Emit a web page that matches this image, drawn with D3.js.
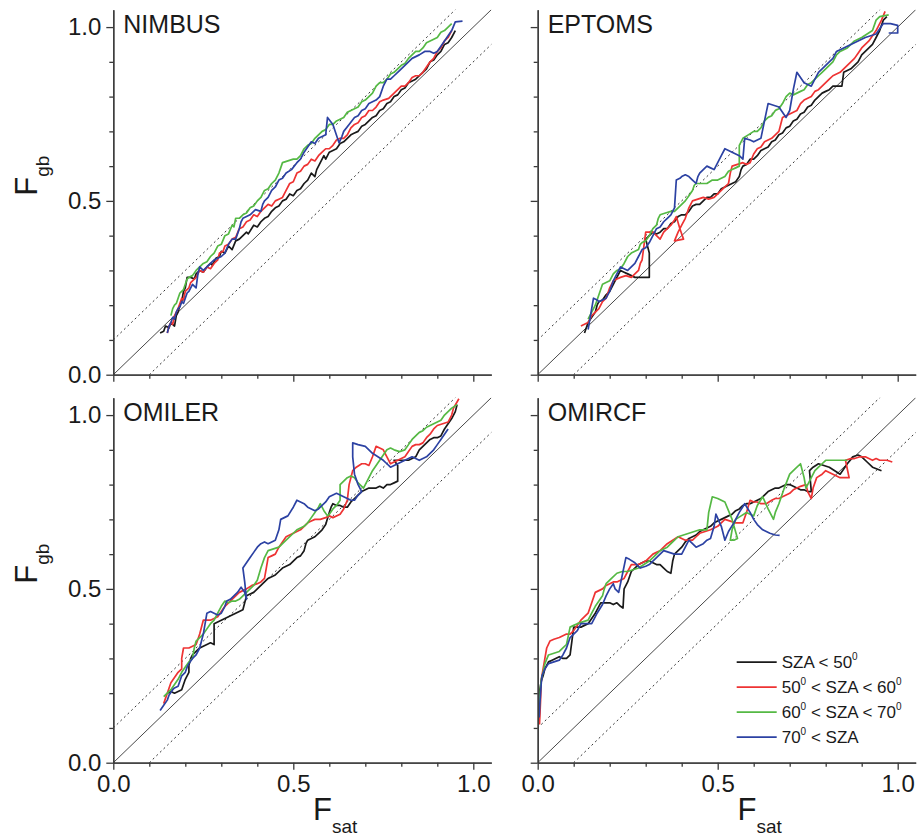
<!DOCTYPE html>
<html>
<head>
<meta charset="utf-8">
<script src="https://cdn.jsdelivr.net/npm/d3@7/dist/d3.min.js"></script>
<style>
  body { margin: 0; background: #fff; }
  svg text { font-family: "Liberation Sans", Arial, sans-serif; fill: #1a1a1a; }
</style>
</head>
<body>
<div id="chart"></div>
<script>
// Data
const panelNames = ['NIMBUS', 'EPTOMS', 'OMILER', 'OMIRCF']
const legendLabels = ['SZA < 50°', '50° < SZA < 60°', '60° < SZA < 70°', '70° < SZA']
const majorTicks = [0, 0.5, 1.0]
const minorTicks = [0.1, 0.2, 0.3, 0.4, 0.6, 0.7, 0.8, 0.9]
const refOffsets = [0, 0.1, -0.1]

// NIMBUS
const nimbusSza50 = [[0.13,0.12],[0.14,0.125],[0.145,0.14],[0.155,0.135],[0.16,0.15],[0.17,0.14],[0.175,0.17],[0.18,0.18],[0.185,0.20],[0.19,0.21],[0.195,0.24],[0.20,0.25],[0.205,0.28],[0.215,0.28],[0.225,0.275],[0.23,0.29],[0.24,0.30],[0.25,0.295],[0.26,0.31],[0.27,0.32],[0.275,0.315],[0.285,0.335],[0.295,0.34],[0.30,0.355],[0.31,0.35],[0.32,0.37],[0.33,0.36],[0.34,0.385],[0.35,0.39],[0.36,0.40],[0.37,0.41],[0.375,0.405],[0.39,0.43],[0.40,0.425],[0.41,0.44],[0.42,0.45],[0.43,0.455],[0.44,0.47],[0.45,0.48],[0.46,0.485],[0.47,0.50],[0.48,0.505],[0.49,0.52],[0.50,0.515],[0.51,0.53],[0.52,0.535],[0.53,0.55],[0.54,0.56],[0.55,0.58],[0.56,0.57],[0.565,0.59],[0.575,0.61],[0.585,0.63],[0.59,0.62],[0.60,0.64],[0.61,0.645],[0.62,0.65],[0.63,0.665],[0.64,0.67],[0.65,0.68],[0.66,0.69],[0.67,0.695],[0.68,0.70],[0.69,0.715],[0.70,0.72],[0.71,0.73],[0.72,0.74],[0.73,0.745],[0.74,0.76],[0.75,0.765],[0.76,0.78],[0.77,0.785],[0.78,0.80],[0.79,0.805],[0.80,0.82],[0.81,0.825],[0.82,0.84],[0.83,0.845],[0.84,0.85],[0.85,0.86],[0.86,0.87],[0.87,0.88],[0.88,0.90],[0.89,0.905],[0.90,0.92],[0.91,0.93],[0.92,0.95],[0.93,0.955],[0.94,0.97],[0.95,0.99]]
const nimbusSza5060 = [[0.15,0.12],[0.155,0.14],[0.16,0.15],[0.165,0.145],[0.17,0.17],[0.175,0.18],[0.18,0.19],[0.185,0.205],[0.19,0.22],[0.195,0.215],[0.20,0.24],[0.21,0.25],[0.215,0.265],[0.22,0.27],[0.23,0.28],[0.24,0.30],[0.25,0.295],[0.26,0.31],[0.27,0.305],[0.28,0.32],[0.29,0.33],[0.295,0.35],[0.305,0.355],[0.31,0.37],[0.32,0.375],[0.33,0.39],[0.34,0.395],[0.35,0.42],[0.36,0.425],[0.37,0.44],[0.38,0.445],[0.39,0.46],[0.40,0.455],[0.41,0.47],[0.42,0.48],[0.43,0.49],[0.44,0.485],[0.45,0.50],[0.46,0.505],[0.47,0.51],[0.48,0.53],[0.49,0.55],[0.50,0.555],[0.51,0.58],[0.52,0.585],[0.53,0.60],[0.54,0.605],[0.55,0.62],[0.56,0.615],[0.57,0.63],[0.58,0.64],[0.59,0.65],[0.60,0.65],[0.61,0.66],[0.62,0.675],[0.63,0.68],[0.64,0.68],[0.65,0.69],[0.66,0.71],[0.67,0.72],[0.68,0.725],[0.69,0.74],[0.70,0.745],[0.71,0.76],[0.72,0.76],[0.73,0.77],[0.74,0.785],[0.75,0.79],[0.765,0.795],[0.78,0.81],[0.79,0.82],[0.80,0.83],[0.81,0.83],[0.82,0.84],[0.83,0.855],[0.84,0.86],[0.85,0.86],[0.86,0.87],[0.87,0.885],[0.88,0.90],[0.89,0.91],[0.90,0.93],[0.91,0.94],[0.92,0.96],[0.93,0.97],[0.94,0.99]]
const nimbusSza6070 = [[0.16,0.17],[0.165,0.19],[0.17,0.20],[0.175,0.205],[0.18,0.22],[0.185,0.235],[0.19,0.24],[0.195,0.245],[0.20,0.26],[0.205,0.275],[0.21,0.28],[0.22,0.285],[0.23,0.30],[0.24,0.31],[0.25,0.32],[0.26,0.325],[0.27,0.34],[0.28,0.35],[0.29,0.37],[0.30,0.375],[0.31,0.40],[0.32,0.405],[0.33,0.43],[0.335,0.425],[0.34,0.45],[0.35,0.45],[0.36,0.46],[0.37,0.465],[0.38,0.48],[0.39,0.485],[0.40,0.50],[0.41,0.51],[0.42,0.53],[0.43,0.535],[0.44,0.55],[0.45,0.56],[0.46,0.58],[0.465,0.595],[0.47,0.61],[0.485,0.615],[0.50,0.62],[0.51,0.62],[0.52,0.63],[0.53,0.65],[0.54,0.66],[0.55,0.665],[0.56,0.68],[0.57,0.69],[0.58,0.70],[0.59,0.705],[0.60,0.72],[0.61,0.72],[0.62,0.73],[0.63,0.735],[0.64,0.74],[0.65,0.755],[0.66,0.76],[0.67,0.765],[0.68,0.77],[0.69,0.785],[0.70,0.79],[0.71,0.80],[0.72,0.81],[0.73,0.83],[0.74,0.84],[0.75,0.84],[0.76,0.85],[0.77,0.865],[0.78,0.87],[0.79,0.88],[0.80,0.89],[0.81,0.895],[0.82,0.91],[0.83,0.92],[0.84,0.93],[0.85,0.93],[0.86,0.94],[0.87,0.955],[0.88,0.96],[0.89,0.965],[0.90,0.97],[0.91,0.985],[0.92,0.99],[0.93,1.0],[0.94,1.01]]
const nimbusSza70 = [[0.15,0.12],[0.155,0.14],[0.16,0.15],[0.165,0.165],[0.17,0.16],[0.175,0.18],[0.18,0.19],[0.185,0.195],[0.19,0.21],[0.195,0.205],[0.20,0.22],[0.205,0.235],[0.21,0.24],[0.22,0.26],[0.23,0.25],[0.235,0.29],[0.24,0.31],[0.25,0.30],[0.26,0.31],[0.27,0.32],[0.28,0.33],[0.29,0.335],[0.30,0.34],[0.31,0.35],[0.32,0.375],[0.33,0.39],[0.34,0.39],[0.35,0.42],[0.355,0.44],[0.36,0.45],[0.37,0.455],[0.38,0.46],[0.395,0.475],[0.41,0.47],[0.415,0.49],[0.42,0.50],[0.43,0.51],[0.44,0.53],[0.45,0.54],[0.46,0.56],[0.47,0.565],[0.48,0.58],[0.495,0.59],[0.51,0.61],[0.52,0.62],[0.53,0.64],[0.54,0.655],[0.55,0.67],[0.56,0.665],[0.57,0.68],[0.58,0.685],[0.59,0.69],[0.595,0.74],[0.61,0.72],[0.627,0.667],[0.635,0.685],[0.64,0.70],[0.655,0.72],[0.67,0.74],[0.68,0.745],[0.69,0.76],[0.70,0.765],[0.71,0.78],[0.72,0.785],[0.73,0.79],[0.74,0.80],[0.75,0.83],[0.76,0.85],[0.77,0.85],[0.78,0.86],[0.795,0.875],[0.81,0.89],[0.82,0.90],[0.83,0.91],[0.84,0.915],[0.85,0.92],[0.865,0.93],[0.88,0.93],[0.89,0.925],[0.90,0.93],[0.91,0.945],[0.92,0.96],[0.93,0.975],[0.94,0.99],[0.95,1.015],[0.97,1.017]]

// EPTOMS
const eptomsSza50 = [[0.13,0.12],[0.135,0.135],[0.14,0.15],[0.15,0.165],[0.16,0.18],[0.165,0.2],[0.17,0.21],[0.18,0.215],[0.19,0.23],[0.195,0.235],[0.20,0.24],[0.21,0.26],[0.22,0.28],[0.225,0.29],[0.23,0.30],[0.24,0.295],[0.25,0.29],[0.26,0.285],[0.27,0.28],[0.28,0.28],[0.29,0.28],[0.30,0.28],[0.31,0.28],[0.31,0.35],[0.30,0.39],[0.31,0.40],[0.32,0.41],[0.33,0.405],[0.34,0.41],[0.35,0.42],[0.36,0.42],[0.37,0.435],[0.38,0.44],[0.39,0.455],[0.40,0.46],[0.41,0.46],[0.42,0.47],[0.43,0.485],[0.44,0.49],[0.45,0.49],[0.46,0.50],[0.47,0.51],[0.48,0.51],[0.49,0.52],[0.50,0.52],[0.51,0.535],[0.52,0.54],[0.53,0.545],[0.54,0.55],[0.55,0.555],[0.56,0.57],[0.565,0.59],[0.57,0.60],[0.58,0.605],[0.59,0.62],[0.60,0.62],[0.61,0.63],[0.62,0.645],[0.63,0.65],[0.64,0.655],[0.65,0.67],[0.66,0.675],[0.67,0.69],[0.68,0.695],[0.69,0.71],[0.70,0.715],[0.71,0.73],[0.72,0.735],[0.73,0.75],[0.74,0.755],[0.75,0.77],[0.76,0.775],[0.77,0.79],[0.78,0.80],[0.79,0.81],[0.80,0.815],[0.81,0.82],[0.82,0.83],[0.83,0.83],[0.845,0.83],[0.85,0.87],[0.86,0.875],[0.87,0.88],[0.88,0.89],[0.89,0.90],[0.90,0.92],[0.91,0.93],[0.92,0.94],[0.93,0.95],[0.94,0.97],[0.95,0.99],[0.96,1.02],[0.97,1.03]]
const eptomsSza5060 = [[0.12,0.14],[0.13,0.145],[0.14,0.15],[0.15,0.17],[0.16,0.18],[0.17,0.19],[0.18,0.21],[0.19,0.22],[0.20,0.25],[0.21,0.27],[0.22,0.275],[0.23,0.28],[0.245,0.285],[0.26,0.28],[0.27,0.29],[0.28,0.30],[0.285,0.32],[0.29,0.33],[0.295,0.37],[0.30,0.41],[0.31,0.41],[0.32,0.41],[0.33,0.40],[0.34,0.39],[0.35,0.41],[0.36,0.42],[0.37,0.43],[0.38,0.445],[0.385,0.455],[0.395,0.42],[0.405,0.39],[0.38,0.385],[0.39,0.41],[0.40,0.43],[0.41,0.45],[0.42,0.48],[0.43,0.50],[0.445,0.505],[0.46,0.51],[0.475,0.505],[0.49,0.51],[0.50,0.52],[0.51,0.53],[0.52,0.54],[0.53,0.55],[0.535,0.58],[0.54,0.60],[0.555,0.605],[0.57,0.61],[0.58,0.605],[0.59,0.61],[0.60,0.635],[0.61,0.65],[0.62,0.655],[0.63,0.67],[0.64,0.675],[0.65,0.68],[0.66,0.69],[0.67,0.70],[0.675,0.72],[0.68,0.74],[0.69,0.745],[0.70,0.75],[0.71,0.755],[0.72,0.76],[0.73,0.78],[0.74,0.79],[0.75,0.795],[0.76,0.80],[0.77,0.815],[0.78,0.82],[0.79,0.83],[0.80,0.84],[0.81,0.85],[0.82,0.86],[0.83,0.865],[0.84,0.87],[0.85,0.88],[0.86,0.89],[0.87,0.90],[0.88,0.91],[0.89,0.925],[0.90,0.94],[0.91,0.95],[0.92,0.96],[0.93,0.975],[0.94,0.99],[0.95,1.01],[0.955,1.02],[0.965,1.045]]
const eptomsSza6070 = [[0.14,0.16],[0.15,0.18],[0.16,0.20],[0.17,0.23],[0.18,0.26],[0.19,0.265],[0.20,0.27],[0.21,0.29],[0.22,0.30],[0.23,0.305],[0.24,0.32],[0.25,0.34],[0.26,0.35],[0.27,0.355],[0.28,0.36],[0.285,0.375],[0.29,0.38],[0.30,0.385],[0.31,0.40],[0.32,0.42],[0.33,0.43],[0.335,0.45],[0.34,0.46],[0.355,0.465],[0.37,0.47],[0.38,0.47],[0.39,0.48],[0.40,0.49],[0.41,0.50],[0.42,0.515],[0.43,0.53],[0.435,0.545],[0.44,0.55],[0.455,0.55],[0.47,0.55],[0.485,0.56],[0.50,0.56],[0.51,0.565],[0.52,0.57],[0.53,0.585],[0.54,0.59],[0.55,0.595],[0.56,0.60],[0.56,0.66],[0.57,0.68],[0.585,0.69],[0.60,0.70],[0.61,0.70],[0.62,0.71],[0.63,0.73],[0.64,0.74],[0.65,0.745],[0.66,0.76],[0.67,0.765],[0.68,0.78],[0.69,0.80],[0.70,0.81],[0.71,0.805],[0.72,0.81],[0.73,0.815],[0.74,0.82],[0.75,0.835],[0.76,0.84],[0.77,0.85],[0.78,0.86],[0.79,0.87],[0.80,0.88],[0.81,0.89],[0.82,0.90],[0.83,0.92],[0.84,0.93],[0.85,0.935],[0.86,0.94],[0.87,0.95],[0.88,0.96],[0.89,0.965],[0.90,0.97],[0.915,0.98],[0.93,0.99],[0.94,1.02],[0.95,1.03],[0.975,1.035]]
const eptomsSza70 = [[0.14,0.13],[0.145,0.16],[0.155,0.22],[0.165,0.215],[0.17,0.21],[0.18,0.215],[0.19,0.22],[0.20,0.24],[0.205,0.255],[0.21,0.27],[0.22,0.29],[0.23,0.31],[0.24,0.305],[0.25,0.30],[0.26,0.31],[0.27,0.32],[0.28,0.34],[0.29,0.36],[0.30,0.365],[0.31,0.38],[0.32,0.40],[0.33,0.42],[0.34,0.425],[0.35,0.44],[0.36,0.45],[0.37,0.46],[0.375,0.47],[0.38,0.48],[0.385,0.56],[0.395,0.565],[0.40,0.57],[0.41,0.575],[0.42,0.57],[0.43,0.56],[0.44,0.55],[0.445,0.57],[0.45,0.58],[0.46,0.59],[0.47,0.60],[0.48,0.595],[0.49,0.59],[0.50,0.61],[0.51,0.63],[0.52,0.65],[0.53,0.645],[0.54,0.64],[0.55,0.635],[0.56,0.63],[0.57,0.62],[0.575,0.68],[0.59,0.675],[0.60,0.67],[0.61,0.675],[0.62,0.68],[0.63,0.73],[0.64,0.78],[0.655,0.775],[0.67,0.77],[0.68,0.755],[0.69,0.74],[0.70,0.76],[0.71,0.82],[0.72,0.87],[0.73,0.855],[0.74,0.84],[0.75,0.835],[0.76,0.83],[0.77,0.85],[0.78,0.87],[0.79,0.88],[0.80,0.89],[0.81,0.90],[0.82,0.91],[0.825,0.92],[0.83,0.93],[0.84,0.935],[0.85,0.94],[0.86,0.945],[0.87,0.95],[0.88,0.955],[0.89,0.96],[0.90,0.965],[0.91,0.97],[0.925,0.975],[0.94,0.98],[0.95,0.995],[0.96,1.01],[0.98,1.01],[1.0,1.005],[1.0,0.983],[0.975,0.983]]

// OMILER
const omilerSza50 = [[0.15,0.20],[0.16,0.205],[0.17,0.20],[0.18,0.205],[0.19,0.21],[0.195,0.225],[0.20,0.24],[0.205,0.25],[0.21,0.26],[0.21,0.28],[0.215,0.30],[0.22,0.31],[0.23,0.32],[0.235,0.325],[0.24,0.33],[0.25,0.335],[0.26,0.34],[0.27,0.345],[0.28,0.34],[0.28,0.40],[0.29,0.405],[0.30,0.41],[0.31,0.415],[0.32,0.42],[0.33,0.425],[0.34,0.43],[0.35,0.435],[0.36,0.44],[0.365,0.46],[0.37,0.48],[0.38,0.485],[0.39,0.49],[0.40,0.50],[0.41,0.51],[0.42,0.52],[0.43,0.53],[0.44,0.535],[0.45,0.54],[0.46,0.55],[0.47,0.56],[0.48,0.565],[0.49,0.57],[0.50,0.58],[0.51,0.59],[0.52,0.595],[0.53,0.61],[0.535,0.63],[0.54,0.64],[0.55,0.645],[0.56,0.65],[0.57,0.66],[0.58,0.67],[0.59,0.685],[0.60,0.72],[0.605,0.735],[0.61,0.745],[0.62,0.74],[0.63,0.74],[0.64,0.735],[0.65,0.735],[0.66,0.75],[0.67,0.76],[0.68,0.77],[0.69,0.78],[0.70,0.785],[0.71,0.79],[0.72,0.79],[0.73,0.79],[0.74,0.795],[0.75,0.79],[0.76,0.80],[0.77,0.80],[0.78,0.805],[0.79,0.81],[0.79,0.855],[0.78,0.87],[0.79,0.87],[0.80,0.87],[0.81,0.87],[0.82,0.87],[0.83,0.875],[0.84,0.88],[0.845,0.89],[0.85,0.90],[0.86,0.91],[0.87,0.92],[0.88,0.93],[0.89,0.935],[0.90,0.935],[0.91,0.94],[0.915,0.95],[0.92,0.96],[0.93,0.975],[0.94,0.99],[0.95,1.01],[0.955,1.03]]
const omilerSza5060 = [[0.14,0.17],[0.145,0.185],[0.15,0.20],[0.155,0.215],[0.16,0.23],[0.17,0.245],[0.18,0.26],[0.185,0.265],[0.19,0.27],[0.19,0.30],[0.195,0.33],[0.20,0.33],[0.21,0.33],[0.22,0.335],[0.23,0.34],[0.24,0.37],[0.25,0.41],[0.26,0.41],[0.27,0.41],[0.28,0.415],[0.29,0.42],[0.30,0.435],[0.31,0.45],[0.32,0.46],[0.33,0.47],[0.34,0.48],[0.35,0.49],[0.36,0.495],[0.37,0.50],[0.385,0.51],[0.40,0.515],[0.41,0.52],[0.42,0.53],[0.425,0.56],[0.43,0.59],[0.44,0.595],[0.45,0.60],[0.455,0.61],[0.46,0.62],[0.47,0.635],[0.48,0.65],[0.49,0.655],[0.50,0.66],[0.51,0.665],[0.52,0.67],[0.53,0.68],[0.54,0.69],[0.55,0.695],[0.56,0.70],[0.575,0.70],[0.59,0.705],[0.60,0.71],[0.61,0.705],[0.63,0.715],[0.64,0.73],[0.65,0.755],[0.655,0.80],[0.665,0.84],[0.675,0.85],[0.69,0.86],[0.70,0.86],[0.71,0.855],[0.72,0.88],[0.73,0.91],[0.74,0.905],[0.75,0.90],[0.76,0.88],[0.77,0.86],[0.78,0.865],[0.79,0.87],[0.80,0.875],[0.81,0.88],[0.82,0.895],[0.83,0.91],[0.84,0.915],[0.85,0.915],[0.86,0.92],[0.87,0.935],[0.88,0.945],[0.89,0.96],[0.90,0.97],[0.915,0.975],[0.93,0.98],[0.94,1.0],[0.945,1.02],[0.96,1.047]]
const omilerSza6070 = [[0.14,0.19],[0.15,0.20],[0.16,0.21],[0.17,0.225],[0.18,0.24],[0.19,0.26],[0.20,0.275],[0.21,0.29],[0.22,0.30],[0.225,0.33],[0.23,0.35],[0.24,0.36],[0.25,0.37],[0.26,0.385],[0.27,0.40],[0.28,0.41],[0.29,0.43],[0.30,0.45],[0.31,0.465],[0.32,0.46],[0.33,0.465],[0.34,0.465],[0.35,0.47],[0.36,0.48],[0.37,0.49],[0.38,0.50],[0.39,0.51],[0.40,0.525],[0.41,0.56],[0.42,0.59],[0.43,0.61],[0.445,0.615],[0.46,0.62],[0.47,0.63],[0.48,0.64],[0.495,0.655],[0.51,0.67],[0.52,0.675],[0.53,0.68],[0.54,0.69],[0.55,0.705],[0.56,0.72],[0.57,0.735],[0.575,0.745],[0.585,0.725],[0.595,0.71],[0.60,0.715],[0.61,0.73],[0.62,0.74],[0.63,0.755],[0.63,0.80],[0.64,0.81],[0.65,0.82],[0.66,0.825],[0.67,0.82],[0.68,0.805],[0.695,0.79],[0.70,0.80],[0.71,0.82],[0.72,0.84],[0.73,0.855],[0.74,0.87],[0.75,0.885],[0.76,0.90],[0.77,0.905],[0.78,0.90],[0.795,0.895],[0.81,0.90],[0.82,0.915],[0.83,0.93],[0.84,0.94],[0.85,0.95],[0.86,0.955],[0.87,0.965],[0.88,0.97],[0.89,0.975],[0.90,0.98],[0.91,0.985],[0.92,1.0],[0.93,1.01],[0.94,1.02],[0.955,1.03]]
const omilerSza70 = [[0.13,0.15],[0.14,0.165],[0.15,0.18],[0.155,0.195],[0.165,0.21],[0.17,0.215],[0.18,0.22],[0.185,0.235],[0.19,0.25],[0.20,0.26],[0.205,0.275],[0.21,0.285],[0.22,0.30],[0.23,0.31],[0.24,0.33],[0.245,0.35],[0.25,0.37],[0.255,0.40],[0.26,0.43],[0.27,0.435],[0.28,0.43],[0.29,0.425],[0.30,0.43],[0.31,0.45],[0.315,0.465],[0.325,0.47],[0.335,0.48],[0.345,0.49],[0.355,0.505],[0.365,0.49],[0.37,0.47],[0.365,0.52],[0.36,0.56],[0.37,0.575],[0.38,0.59],[0.39,0.605],[0.40,0.62],[0.41,0.63],[0.42,0.635],[0.43,0.63],[0.44,0.635],[0.45,0.64],[0.46,0.67],[0.465,0.70],[0.475,0.705],[0.485,0.71],[0.50,0.735],[0.51,0.755],[0.52,0.75],[0.53,0.745],[0.54,0.735],[0.55,0.73],[0.56,0.725],[0.57,0.73],[0.58,0.74],[0.59,0.75],[0.60,0.765],[0.61,0.77],[0.62,0.775],[0.63,0.77],[0.64,0.765],[0.65,0.76],[0.66,0.755],[0.67,0.755],[0.68,0.77],[0.69,0.78],[0.68,0.80],[0.67,0.83],[0.665,0.88],[0.665,0.92],[0.68,0.915],[0.70,0.91],[0.71,0.90],[0.72,0.89],[0.735,0.88],[0.75,0.87],[0.76,0.86],[0.77,0.85],[0.78,0.855],[0.79,0.86],[0.80,0.865],[0.81,0.87],[0.82,0.875],[0.83,0.88],[0.84,0.875],[0.85,0.87],[0.86,0.875],[0.87,0.88],[0.88,0.89],[0.89,0.90],[0.90,0.915],[0.91,0.93],[0.92,0.945],[0.93,0.96]]

// OMIRCF
const omircfSza50 = [[0.004,0.12],[0.005,0.17],[0.006,0.21],[0.01,0.235],[0.015,0.25],[0.02,0.27],[0.03,0.29],[0.04,0.295],[0.05,0.30],[0.06,0.305],[0.07,0.30],[0.08,0.30],[0.09,0.31],[0.095,0.35],[0.10,0.39],[0.11,0.39],[0.12,0.39],[0.13,0.395],[0.14,0.40],[0.15,0.415],[0.16,0.43],[0.17,0.45],[0.175,0.46],[0.19,0.46],[0.20,0.46],[0.21,0.455],[0.22,0.46],[0.23,0.45],[0.237,0.445],[0.24,0.50],[0.25,0.52],[0.26,0.55],[0.27,0.56],[0.28,0.57],[0.29,0.575],[0.30,0.58],[0.31,0.58],[0.32,0.575],[0.33,0.57],[0.34,0.57],[0.35,0.56],[0.36,0.55],[0.37,0.545],[0.375,0.58],[0.38,0.60],[0.39,0.61],[0.40,0.62],[0.41,0.635],[0.42,0.645],[0.43,0.65],[0.44,0.655],[0.45,0.665],[0.46,0.67],[0.47,0.675],[0.48,0.68],[0.49,0.69],[0.50,0.695],[0.51,0.70],[0.52,0.705],[0.53,0.71],[0.54,0.715],[0.55,0.725],[0.56,0.73],[0.57,0.74],[0.58,0.745],[0.59,0.745],[0.60,0.75],[0.61,0.755],[0.62,0.76],[0.63,0.77],[0.64,0.78],[0.65,0.785],[0.66,0.79],[0.67,0.79],[0.68,0.795],[0.69,0.80],[0.70,0.80],[0.71,0.795],[0.72,0.79],[0.73,0.785],[0.74,0.785],[0.75,0.78],[0.76,0.78],[0.755,0.84],[0.765,0.85],[0.78,0.86],[0.795,0.855],[0.81,0.85],[0.825,0.84],[0.84,0.83],[0.85,0.845],[0.86,0.86],[0.875,0.88],[0.89,0.885],[0.90,0.88],[0.915,0.865],[0.93,0.85],[0.955,0.84]]
const omircfSza5060 = [[0.005,0.11],[0.008,0.18],[0.01,0.24],[0.015,0.27],[0.02,0.30],[0.025,0.33],[0.034,0.35],[0.045,0.355],[0.06,0.36],[0.07,0.365],[0.08,0.37],[0.09,0.37],[0.10,0.38],[0.11,0.395],[0.12,0.41],[0.13,0.42],[0.14,0.43],[0.15,0.46],[0.16,0.49],[0.17,0.495],[0.18,0.50],[0.19,0.51],[0.20,0.515],[0.21,0.52],[0.22,0.52],[0.23,0.525],[0.24,0.53],[0.25,0.55],[0.26,0.57],[0.27,0.57],[0.28,0.57],[0.29,0.575],[0.30,0.58],[0.31,0.59],[0.32,0.60],[0.33,0.605],[0.34,0.61],[0.35,0.62],[0.36,0.63],[0.375,0.64],[0.39,0.65],[0.40,0.645],[0.41,0.64],[0.42,0.64],[0.43,0.64],[0.44,0.65],[0.45,0.66],[0.465,0.665],[0.48,0.67],[0.49,0.675],[0.50,0.68],[0.51,0.69],[0.52,0.70],[0.535,0.695],[0.55,0.69],[0.56,0.69],[0.57,0.69],[0.58,0.72],[0.59,0.755],[0.60,0.75],[0.61,0.75],[0.62,0.745],[0.635,0.745],[0.65,0.755],[0.66,0.76],[0.67,0.76],[0.68,0.765],[0.69,0.77],[0.70,0.775],[0.71,0.785],[0.72,0.79],[0.73,0.795],[0.745,0.80],[0.75,0.78],[0.76,0.76],[0.765,0.79],[0.775,0.82],[0.79,0.83],[0.80,0.84],[0.81,0.835],[0.82,0.83],[0.83,0.825],[0.84,0.82],[0.85,0.82],[0.865,0.82],[0.86,0.845],[0.855,0.87],[0.87,0.875],[0.88,0.875],[0.895,0.88],[0.91,0.88],[0.92,0.875],[0.93,0.87],[0.94,0.875],[0.95,0.87],[0.97,0.87],[0.985,0.865]]
const omircfSza6070 = [[0.004,0.15],[0.006,0.19],[0.008,0.22],[0.01,0.24],[0.015,0.26],[0.02,0.285],[0.03,0.31],[0.045,0.315],[0.06,0.32],[0.07,0.33],[0.08,0.34],[0.085,0.365],[0.09,0.39],[0.10,0.395],[0.11,0.40],[0.125,0.405],[0.14,0.41],[0.15,0.43],[0.16,0.45],[0.17,0.465],[0.18,0.48],[0.185,0.50],[0.19,0.515],[0.205,0.53],[0.22,0.545],[0.235,0.55],[0.25,0.55],[0.265,0.555],[0.28,0.56],[0.295,0.57],[0.31,0.58],[0.325,0.595],[0.34,0.61],[0.35,0.615],[0.36,0.62],[0.375,0.635],[0.39,0.65],[0.405,0.655],[0.42,0.66],[0.435,0.665],[0.45,0.67],[0.46,0.67],[0.47,0.67],[0.475,0.72],[0.485,0.765],[0.50,0.76],[0.52,0.75],[0.54,0.70],[0.555,0.645],[0.545,0.64],[0.535,0.64],[0.54,0.67],[0.55,0.70],[0.565,0.71],[0.58,0.72],[0.59,0.715],[0.60,0.71],[0.61,0.74],[0.625,0.765],[0.64,0.73],[0.655,0.70],[0.66,0.72],[0.67,0.745],[0.685,0.79],[0.70,0.83],[0.715,0.845],[0.73,0.86],[0.74,0.82],[0.745,0.79],[0.75,0.80],[0.76,0.82],[0.77,0.84],[0.78,0.85],[0.79,0.86],[0.80,0.87],[0.815,0.87],[0.83,0.87],[0.845,0.87],[0.86,0.87]]
const omircfSza70 = [[0.004,0.13],[0.006,0.17],[0.008,0.20],[0.01,0.23],[0.012,0.25],[0.02,0.27],[0.03,0.285],[0.045,0.29],[0.06,0.295],[0.07,0.31],[0.08,0.33],[0.085,0.345],[0.09,0.36],[0.10,0.37],[0.11,0.38],[0.115,0.39],[0.12,0.40],[0.135,0.40],[0.15,0.40],[0.165,0.43],[0.18,0.455],[0.19,0.48],[0.20,0.50],[0.21,0.515],[0.215,0.50],[0.225,0.49],[0.235,0.54],[0.245,0.59],[0.255,0.585],[0.27,0.575],[0.28,0.565],[0.285,0.56],[0.30,0.565],[0.31,0.57],[0.32,0.58],[0.33,0.59],[0.34,0.60],[0.35,0.61],[0.365,0.605],[0.38,0.60],[0.39,0.60],[0.40,0.60],[0.41,0.62],[0.42,0.64],[0.43,0.63],[0.44,0.62],[0.45,0.625],[0.46,0.63],[0.47,0.64],[0.48,0.645],[0.49,0.68],[0.495,0.715],[0.51,0.68],[0.52,0.64],[0.53,0.665],[0.545,0.69],[0.56,0.72],[0.575,0.745],[0.59,0.72],[0.60,0.70],[0.61,0.685],[0.625,0.67],[0.635,0.665],[0.645,0.66],[0.66,0.655],[0.672,0.654]]

const panelSeries = [
  [nimbusSza50, nimbusSza5060, nimbusSza6070, nimbusSza70],
  [eptomsSza50, eptomsSza5060, eptomsSza6070, eptomsSza70],
  [omilerSza50, omilerSza5060, omilerSza6070, omilerSza70],
  [omircfSza50, omircfSza5060, omircfSza6070, omircfSza70]
]
const colors = ['#1a1a1a', '#ee3333', '#55b944', '#2c42a3']

// Dimensions
let dimensions = {
  width: 919,
  height: 837,
  plotW: 378,
  plotH: 365
}
const origins = [[113.3, 9.7], [537.7, 9.7], [113.3, 397.7], [537.7, 397.7]]

const svg = d3.select('#chart')
  .append('svg')
  .attr('width', dimensions.width)
  .attr('height', dimensions.height)
  .style('background', '#fff')

const xScale = d3.scaleLinear().domain([0, 1.05]).range([0, dimensions.plotW])
const yScale = d3.scaleLinear().domain([0, 1.05]).range([dimensions.plotH, 0])

const line = d3.line()
  .x(d => xScale(d[0]))
  .y(d => yScale(d[1]))

panelNames.forEach((name, i) => {
  const [ox, oy] = origins[i]
  const isLeft = i % 2 === 0
  const isBottom = i >= 2

  const ctr = svg.append('g')
    .attr('transform', `translate(${ox}, ${oy})`)

  ctr.append('clipPath')
    .attr('id', `clip${i}`)
    .append('rect')
    .attr('width', dimensions.plotW)
    .attr('height', dimensions.plotH)

  const plot = ctr.append('g')
    .attr('clip-path', `url(#clip${i})`)

  // reference lines
  plot.selectAll('.ref')
    .data(refOffsets)
    .join('path')
    .attr('d', off => line([[-0.2, -0.2 + off], [1.2, 1.2 + off]]))
    .attr('fill', 'none')
    .attr('stroke', '#333')
    .attr('stroke-width', off => off === 0 ? 0.9 : 1)
    .attr('stroke-dasharray', off => off === 0 ? null : '2,3')

  // series
  plot.selectAll('.series')
    .data(panelSeries[i])
    .join('path')
    .attr('d', line)
    .attr('fill', 'none')
    .attr('stroke', (d, k) => colors[k])
    .attr('stroke-width', 1.7)
    .attr('stroke-linejoin', 'round')

  // axes
  const yMinor = d3.axisLeft(yScale).tickValues(minorTicks).tickSize(4).tickFormat('').tickSizeOuter(0)
  const yMajor = d3.axisLeft(yScale).tickValues(majorTicks).tickSize(7).tickPadding(5).tickSizeOuter(0)
    .tickFormat(isLeft ? d3.format('.1f') : '')
  const xMinor = d3.axisBottom(xScale).tickValues(minorTicks).tickSize(4).tickFormat('').tickSizeOuter(0)
  const xMajor = d3.axisBottom(xScale).tickValues(majorTicks).tickSize(7).tickPadding(5).tickSizeOuter(0)
    .tickFormat(isBottom ? d3.format('.1f') : '')

  const axes = [
    ctr.append('g').call(yMinor),
    ctr.append('g').call(yMajor),
    ctr.append('g').attr('transform', `translate(0, ${dimensions.plotH})`).call(xMinor),
    ctr.append('g').attr('transform', `translate(0, ${dimensions.plotH})`).call(xMajor)
  ]
  axes.forEach(a => {
    a.selectAll('path, line').attr('stroke', '#3a3a3a').attr('stroke-width', 1.3)
    a.selectAll('text')
      .attr('font-family', '"Liberation Sans", Arial, sans-serif')
      .attr('font-size', 24)
      .attr('fill', '#1a1a1a')
  })

  // title
  ctr.append('text')
    .attr('x', 10)
    .attr('y', 23)
    .attr('font-size', 25)
    .text(name)

  if (isLeft) {
    const lbl = ctr.append('text')
      .attr('transform', `translate(${37 - ox}, ${yScale(0.515)}) rotate(-90)`)
    lbl.append('tspan').attr('font-size', 31).text('F')
    lbl.append('tspan').attr('font-size', 19).attr('dy', 12).text('gb')
  }

  if (isBottom) {
    const lbl = ctr.append('text')
      .attr('x', xScale(0.555))
      .attr('y', dimensions.plotH + 57)
    lbl.append('tspan').attr('font-size', 31).text('F')
    lbl.append('tspan').attr('font-size', 19).attr('dy', 13).text('sat')
  }

  // legend
  if (i === 3) {
    const legend = ctr.append('g')
      .attr('transform', 'translate(199, 264.5)')

    const rows = legend.selectAll('g')
      .data(legendLabels)
      .join('g')
      .attr('transform', (d, k) => `translate(0, ${k * 25})`)

    rows.append('line')
      .attr('x1', 0)
      .attr('x2', 40)
      .attr('stroke', (d, k) => colors[k])
      .attr('stroke-width', 1.8)

    rows.append('text')
      .attr('x', 45)
      .attr('y', 6)
      .attr('font-size', 17)
      .each(function (d) {
        const t = d3.select(this)
        const parts = d.split('°')
        parts.forEach((p, j) => {
          t.append('tspan').text(p).attr('dy', j === 0 ? 0 : 8).attr('font-size', 17)
          if (j < parts.length - 1) {
            t.append('tspan').text('0').attr('font-size', 10).attr('dy', -8)
          }
        })
      })
  }
})
</script>
</body>
</html>
